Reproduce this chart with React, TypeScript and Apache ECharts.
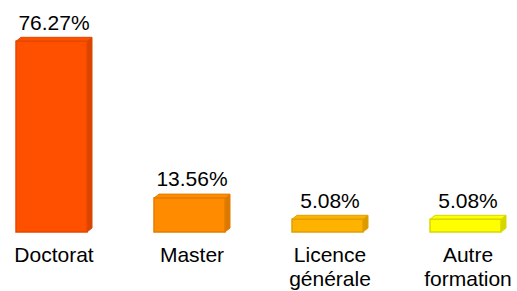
import React, { useEffect, useRef } from "react";
import * as echarts from "echarts";

const categories = ["Doctorat", "Master", "Licence\ngénérale", "Autre\nformation"];
const values = [76.27, 13.56, 5.08, 5.08];

const frontColors = ["#FF5000", "#FF8C00", "#FFB300", "#FFFF00"];
const sideColors = ["#D94400", "#DB7800", "#DB9A00", "#D6D600"];
const borderColors = ["#E24800", "#E37C00", "#DFA000", "#D8D800"];

const FONT = '"Liberation Sans", Arial, sans-serif';

export default function App() {
  const ref = useRef<HTMLDivElement>(null);
  useEffect(() => {
    if (!ref.current) return;
    const chart = echarts.init(ref.current, null, { renderer: "svg" });
    const data = values.map((v, i) => [i, v]);
    chart.setOption({
      animation: false,
      backgroundColor: "#ffffff",
      grid: {
        left: -15,
        right: -20,
        top: 32,
        bottom: 59,
        containLabel: false,
        outerBoundsMode: "none",
      },
      xAxis: {
        type: "category",
        data: categories,
        axisLine: { show: false },
        axisTick: { show: false },
        splitLine: { show: false },
        axisLabel: {
          interval: 0,
          margin: 10,
          fontSize: 21,
          lineHeight: 24,
          color: "#000000",
          fontFamily: FONT,
        },
      },
      yAxis: {
        type: "value",
        min: 0,
        max: 80,
        show: false,
        splitLine: { show: false },
      },
      series: [
        {
          type: "custom",
          data,
          clip: false,
          renderItem: (params: any, api: any) => {
            const i = api.value(0);
            const v = api.value(1);
            const top = api.coord([i, v]);
            const bot = api.coord([i, 0]);
            const cx = top[0];
            const yTop = top[1];
            const yBot = bot[1];
            const w = 71;
            const dx = 5;
            const dy = 4;
            const x0 = cx - (w + dx) / 2;
            const x1 = x0 + w;
            const idx = params.dataIndex;
            return {
              type: "group",
              children: [
                {
                  type: "polygon",
                  shape: {
                    points: [
                      [x1, yTop],
                      [x1 + dx, yTop - dy],
                      [x1 + dx, yBot - dy],
                      [x1, yBot],
                    ],
                  },
                  style: { fill: sideColors[idx], stroke: borderColors[idx], lineWidth: 1 },
                },
                {
                  type: "polygon",
                  shape: {
                    points: [
                      [x0, yTop],
                      [x0 + dx, yTop - dy],
                      [x1 + dx, yTop - dy],
                      [x1, yTop],
                    ],
                  },
                  style: { fill: frontColors[idx], stroke: borderColors[idx], lineWidth: 1 },
                },
                {
                  type: "rect",
                  shape: { x: x0, y: yTop, width: w, height: yBot - yTop },
                  style: { fill: frontColors[idx], stroke: borderColors[idx], lineWidth: 1.5 },
                },
                {
                  type: "text",
                  style: {
                    text: v.toFixed(2) + "%",
                    x: cx,
                    y: yTop - dy - 4.8,
                    align: "center",
                    verticalAlign: "bottom",
                    fontSize: 21,
                    fontFamily: FONT,
                    fill: "#000000",
                  },
                },
              ],
            };
          },
        },
      ],
    });
    return () => chart.dispose();
  }, []);
  return <div ref={ref} style={{ width: 517, height: 291, position: "absolute", left: 0, top: 0 }} />;
}
